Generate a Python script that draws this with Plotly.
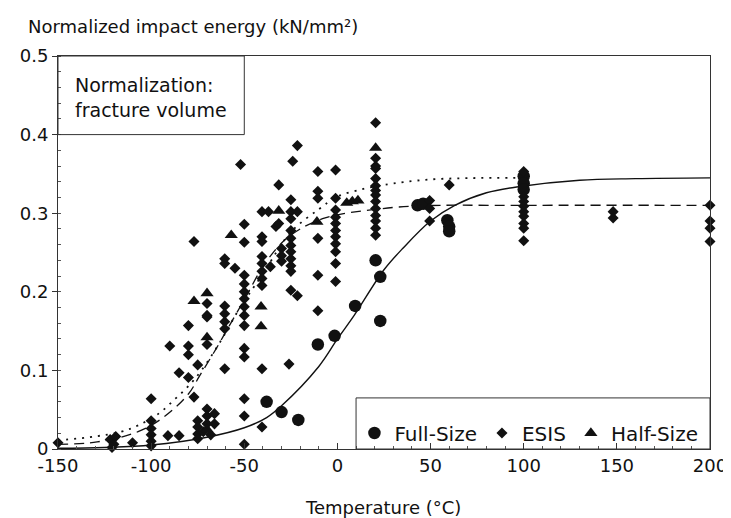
import plotly.graph_objects as go

# ---------------- data ----------------
full_T = [-38, -30, -21, -10.5, -1.5, 9.5, 20.5, 23, 23, 43, 46, 59, 60, 60, 100, 100, 100]
full_E = [0.060, 0.047, 0.037, 0.133, 0.144, 0.182, 0.240, 0.219, 0.163, 0.310, 0.312,
          0.291, 0.283, 0.277, 0.347, 0.338, 0.330]

half_T = [-77, -70, -70, -57, -41, -41, -31.5, -11, 5, 8, 11, 20.5, -70]
half_E = [0.188, 0.198, 0.142, 0.272, 0.181, 0.156, 0.303, 0.289, 0.313, 0.315, 0.316, 0.383, 0.025]

esis_T = (
    [-150]
    + [-122, -120, -119, -121]
    + [-110]
    + [-100] * 6
    + [-91, -85, -90, -85]
    + [-80] * 4
    + [-77, -77, -75]
    + [-75, -75, -75, -70, -70, -70, -66, -66, -72, -68, -75]
    + [-70] * 4
    + [-60.5] * 7
    + [-55, -52]
    + [-50] * 14
    + [-40.5] * 10
    + [-37, -36, -33, -31.5, -31.5]
    + [-30] * 3
    + [-26]
    + [-25] * 11
    + [-24]
    + [-21.5] * 3
    + [-10.5] * 6
    + [-1] * 11
    + [20.5] * 14
    + [49.5] * 3
    + [60]
    + [100] * 9
    + [148] * 2
    + [200] * 4
)
esis_E = (
    [0.008]
    + [0.012, 0.006, 0.016, 0.002]
    + [0.008]
    + [0.064, 0.036, 0.026, 0.018, 0.010, 0.004]
    + [0.017, 0.017, 0.131, 0.097]
    + [0.157, 0.131, 0.120, 0.091]
    + [0.264, 0.066, 0.107]
    + [0.036, 0.028, 0.019, 0.051, 0.042, 0.032, 0.045, 0.032, 0.022, 0.018, 0.013]
    + [0.185, 0.168, 0.170, 0.133]
    + [0.242, 0.236, 0.182, 0.172, 0.162, 0.153, 0.102]
    + [0.230, 0.362]
    + [0.286, 0.263, 0.221, 0.210, 0.200, 0.191, 0.181, 0.170, 0.157, 0.128, 0.117, 0.064, 0.042, 0.006]
    + [0.302, 0.270, 0.264, 0.245, 0.236, 0.226, 0.217, 0.208, 0.102, 0.028]
    + [0.302, 0.232, 0.283, 0.336, 0.287]
    + [0.255, 0.246, 0.239]
    + [0.108]
    + [0.317, 0.302, 0.293, 0.278, 0.268, 0.259, 0.251, 0.242, 0.233, 0.226, 0.202]
    + [0.366]
    + [0.386, 0.302, 0.195]
    + [0.353, 0.328, 0.319, 0.268, 0.221, 0.176]
    + [0.355, 0.319, 0.304, 0.295, 0.287, 0.278, 0.270, 0.261, 0.251, 0.236, 0.213]
    + [0.415, 0.370, 0.360, 0.357, 0.344, 0.335, 0.329, 0.323, 0.315, 0.306, 0.297, 0.290, 0.281, 0.272]
    + [0.316, 0.306, 0.290]
    + [0.336]
    + [0.353, 0.321, 0.315, 0.309, 0.302, 0.296, 0.287, 0.281, 0.265]
    + [0.302, 0.294]
    + [0.310, 0.290, 0.281, 0.264]
)

# fitted curves
solid_T = [-150, -125, -100, -70, -50, -38, -30, -10, 0, 9, 25, 35, 50, 63, 80, 98, 130, 160, 200]
solid_E = [0.001, 0.002, 0.005, 0.015, 0.027, 0.040, 0.055, 0.105, 0.140, 0.170, 0.228, 0.255,
           0.290, 0.310, 0.326, 0.334, 0.342, 0.344, 0.345]

dot_T = [-150, -130, -116, -107, -96, -87, -80, -73, -63, -53, -40, -25, -10, 0, 14, 25, 50, 100]
dot_E = [0.011, 0.016, 0.022, 0.030, 0.045, 0.064, 0.080, 0.100, 0.136, 0.177, 0.223, 0.276,
         0.305, 0.321, 0.331, 0.336, 0.343, 0.345]

dash_T = [-150, -129, -107, -93, -80, -74, -65, -58, -50, -40, -30, -20, -8, 0, 14, 40, 100, 200]
dash_E = [0.006, 0.009, 0.022, 0.041, 0.070, 0.093, 0.128, 0.157, 0.190, 0.232, 0.262, 0.280,
          0.293, 0.298, 0.303, 0.309, 0.310, 0.310]

x_ticks = [-150, -100, -50, 0, 50, 100, 150, 200]
x_ticktext = ["-150", "-100", "-50", "0", "50", "100", "150", "200"]
y_ticks = [0, 0.1, 0.2, 0.3, 0.4, 0.5]
y_ticktext = ["0", "0.1", "0.2", "0.3", "0.4", "0.5"]

FONT = "DejaVu Sans"
INK = "#111111"

fig = go.Figure()

fig.add_trace(go.Scatter(x=solid_T, y=solid_E, mode="lines", showlegend=False,
                         line=dict(color=INK, width=1.4, shape="spline")))
fig.add_trace(go.Scatter(x=dot_T, y=dot_E, mode="lines", showlegend=False,
                         line=dict(color=INK, width=1.8, dash="2px,6px", shape="spline")))
fig.add_trace(go.Scatter(x=dash_T, y=dash_E, mode="lines", showlegend=False,
                         line=dict(color=INK, width=1.3, dash="10px,6px", shape="spline")))

fig.add_trace(go.Scatter(x=full_T, y=full_E, mode="markers", name="Full-Size", cliponaxis=False,
                         marker=dict(symbol="circle", size=12.5, color=INK)))
fig.add_trace(go.Scatter(x=esis_T, y=esis_E, mode="markers", name="ESIS", cliponaxis=False,
                         marker=dict(symbol="diamond", size=8.5, color=INK)))
fig.add_trace(go.Scatter(x=half_T, y=half_E, mode="markers", name="Half-Size", cliponaxis=False,
                         marker=dict(symbol="triangle-up", size=11.5, color=INK)))

fig.update_layout(
    width=731, height=518,
    margin=dict(l=48, r=21, t=48, b=77),
    paper_bgcolor="white", plot_bgcolor="white",
    font=dict(family=FONT, size=18, color=INK),
    legend=dict(orientation="h", x=0.4547, y=0.0407, xanchor="left", yanchor="middle",
                font=dict(family=FONT, size=20, color=INK), bgcolor="rgba(0,0,0,0)",
                borderwidth=0, traceorder="normal"),
    xaxis=dict(range=[-150, 200], tickvals=x_ticks, ticktext=x_ticktext,
               showline=True, linecolor="#333", linewidth=1, mirror=True,
               showgrid=False, zeroline=False, ticks="inside", ticklen=6, tickcolor="#333",
               minor=dict(dtick=10, ticks="inside", ticklen=3, tickcolor="#555"),
               tickfont=dict(size=18)),
    yaxis=dict(range=[0, 0.5], tickvals=y_ticks, ticktext=y_ticktext,
               showline=True, linecolor="#333", linewidth=1, mirror=True,
               showgrid=False, zeroline=False, ticks="outside", ticklen=5, tickcolor="#333",
               minor=dict(dtick=0.02, ticks="inside", ticklen=3, tickcolor="#555"),
               tickfont=dict(size=18)),
    shapes=[
        dict(type="rect", xref="x", yref="y", x0=-150, x1=-50, y0=0.4, y1=0.5,
             line=dict(color="#333", width=1)),
        dict(type="rect", xref="x", yref="y", x0=10, x1=200, y0=0, y1=0.065,
             line=dict(color="#333", width=1)),
    ],
    annotations=[
        dict(text="Normalized impact energy (kN/mm²)", xref="paper", yref="paper",
             x=-0.0498, y=1.076, xanchor="left", yanchor="middle", showarrow=False,
             font=dict(family=FONT, size=18, color=INK)),
        dict(text="Temperature (°C)", xref="paper", yref="paper",
             x=0.4985, y=-0.150, xanchor="center", yanchor="middle", showarrow=False,
             font=dict(family=FONT, size=18, color=INK)),
        dict(text="Normalization:<br>fracture volume", xref="x", yref="y",
             x=-142, y=0.4477, xanchor="left", yanchor="middle", align="left", showarrow=False,
             font=dict(family=FONT, size=19, color=INK)),
    ],
)

fig.write_html("out.html")
